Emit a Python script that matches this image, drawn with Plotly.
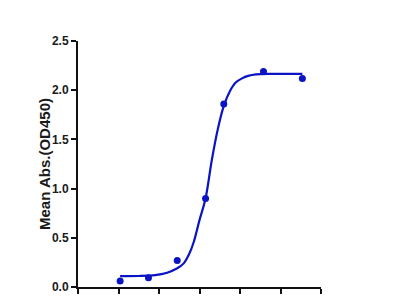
import plotly.graph_objects as go

# x in log units (tick positions -3..3), y = Mean Abs. (OD450)
point_x = [-1.96, -1.26, -0.55, 0.15, 0.60, 1.58, 2.54]
point_y = [0.06, 0.095, 0.27, 0.90, 1.86, 2.19, 2.12]

# fitted curve
curve_x = [-1.96, -1.5, -1.1, -0.8, -0.55, -0.39, -0.25, -0.14, 0.0, 0.15, 0.30,
           0.45, 0.60, 0.75, 0.90, 1.05, 1.20, 1.40, 1.70, 2.10, 2.54]
curve_y = [0.11, 0.112, 0.12, 0.145, 0.19, 0.24, 0.34, 0.46, 0.68, 0.90, 1.28,
           1.60, 1.84, 1.99, 2.08, 2.12, 2.145, 2.16, 2.165, 2.165, 2.165]

x_ticks = [-3, -2, -1, 0, 1, 2, 3]
y_ticks = [0.0, 0.5, 1.0, 1.5, 2.0, 2.5]
y_title = "Mean Abs.(OD450)"

blue = "#0a14c4"

fig = go.Figure()
fig.add_trace(go.Scatter(x=curve_x, y=curve_y, mode="lines",
                         line=dict(color=blue, width=2.2, shape="spline", smoothing=0.8),
                         hoverinfo="skip", showlegend=False))
fig.add_trace(go.Scatter(x=point_x, y=point_y, mode="markers",
                         marker=dict(color=blue, size=7), showlegend=False))

tick_font = dict(family="Liberation Sans Narrow, Arial Narrow, Liberation Sans, Arial",
                 size=12, color="#1a1a1a")

fig.update_layout(
    width=400, height=300,
    margin=dict(l=78, r=79, t=41, b=13),
    paper_bgcolor="white", plot_bgcolor="white",
    font=dict(family="Liberation Sans, Arial", color="#1a1a1a"),
    xaxis=dict(range=[-3, 3], tickvals=x_ticks, showticklabels=False,
               automargin=False,
               showgrid=False, zeroline=False, showline=True, linecolor="#111111",
               linewidth=2, ticks="outside", ticklen=5, tickwidth=2, tickcolor="#111111"),
    yaxis=dict(range=[0, 2.5], tickvals=y_ticks, ticktext=["<b>%.1f</b>" % v for v in y_ticks],
               automargin=False,
               showgrid=False, zeroline=False, showline=True, linecolor="#111111",
               linewidth=2, ticks="outside", ticklen=5, tickwidth=2, tickcolor="#111111",
               tickfont=tick_font),
    annotations=[dict(text="<b>" + y_title + "</b>", xref="paper", yref="paper",
                      x=0, y=0.5, xshift=-34, xanchor="center", yanchor="middle",
                      textangle=-90, showarrow=False,
                      font=dict(family="Liberation Sans, Arial", size=15, color="#1a1a1a"))],
)

fig.write_html("out.html")
